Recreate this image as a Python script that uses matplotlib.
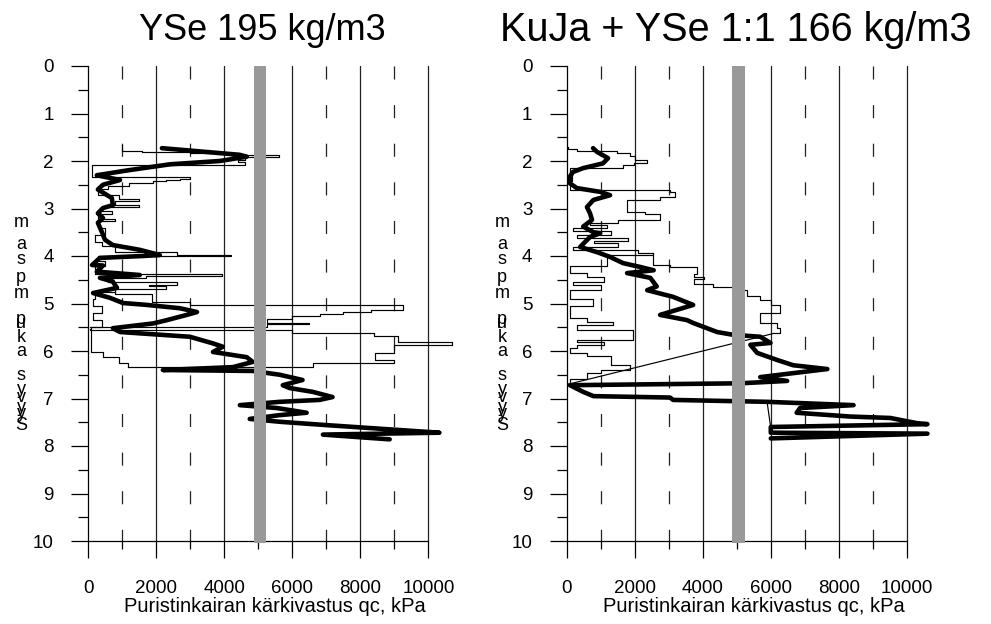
import matplotlib
matplotlib.use('Agg')
import matplotlib.pyplot as plt

plt.rcParams['font.family'] = ['Liberation Sans', 'DejaVu Sans']
plt.rcParams['lines.scale_dashes'] = False

# ---------------- data ----------------
titles = ['YSe 195 kg/m3', 'KuJa + YSe 1:1 166 kg/m3']
x_label = 'Puristinkairan kärkivastus qc, kPa'
y_label_chars = list('maspmpukasyvyyS')
x_major = [0, 2000, 4000, 6000, 8000, 10000]
x_minor = [1000, 3000, 5000, 7000, 9000]
y_major = list(range(0, 11))
y_minor = [0.5, 1.5, 2.5, 3.5, 4.5, 5.5, 6.5, 7.5, 8.5, 9.5]
limit_lo, limit_hi = 4870, 5240   # grey reference band

# left panel, thick sounding
L_thick_qc = [2170, 2990, 4460, 4660, 3870, 2400, 1140, 260, 940, 440, 290, 700, 730, 440, 290, 440, 290,
              410, 500, 730, 1520, 2110, 1610, 350, 120, 440, 260, 1520, 350, 730, 850, 150, 640, 1030,
              1730, 2700, 3200, 2900, 2320, 1910, 730, 940, 2990, 3670, 3960, 3670, 4660, 4840, 4250,
              2200, 4840, 5630, 6300, 5720, 5920, 6600, 7180, 6800, 5630, 4460, 5540, 6420, 5630, 4750,
              5630, 7000, 8860, 10320, 6900, 8860]
L_thick_depth = [1.73, 1.78, 1.87, 1.91, 2.00, 2.07, 2.20, 2.30, 2.40, 2.50, 2.60, 2.78, 2.93, 2.99, 3.10,
                 3.20, 3.30, 3.50, 3.66, 3.77, 3.87, 3.98, 4.00, 4.04, 4.19, 4.20, 4.33, 4.40, 4.46, 4.54,
                 4.67, 4.78, 4.88, 4.99, 5.03, 5.10, 5.18, 5.24, 5.35, 5.42, 5.52, 5.60, 5.70, 5.84, 5.91,
                 6.02, 6.13, 6.23, 6.34, 6.40, 6.42, 6.50, 6.61, 6.72, 6.78, 6.86, 6.97, 7.03, 7.07, 7.14,
                 7.20, 7.30, 7.35, 7.43, 7.49, 7.56, 7.65, 7.72, 7.76, 7.86]

# left panel, thin sounding (three stepped pieces)
LA_qc = [1000, 1600, 3000, 4200, 5600, 4600, 4400, 4600, 120, 2990, 2700, 2300, 1900, 1200, 600, 300, 900,
         1500, 800, 1500, 400, 700, 300, 800, 300, 500, 200, 400, 800, 2600, 4200, 300, 500, 200, 3950,
         1700, 600, 2600, 1800, 2300, 800, 200, 150, 400, 150, 400, 100, 80, 450, 900, 1170, 1170]
LA_depth = [1.66, 1.78, 1.80, 1.83, 1.88, 1.92, 1.98, 2.03, 2.09, 2.33, 2.37, 2.40, 2.43, 2.47, 2.52, 2.58,
            2.72, 2.80, 2.85, 2.92, 2.96, 3.06, 3.12, 3.22, 3.26, 3.40, 3.55, 3.70, 3.78, 3.92, 3.97, 4.01,
            4.10, 4.20, 4.38, 4.42, 4.47, 4.55, 4.60, 4.64, 4.70, 4.76, 4.90, 5.05, 5.20, 5.35, 5.50, 5.80,
            6.02, 6.12, 6.25, 6.33]
LB_qc = [800, 1870, 2990, 9240, 8300, 7500, 6800, 6000, 5250, 6500, 5250, 60]
LB_depth = [4.70, 4.80, 4.97, 5.03, 5.14, 5.18, 5.22, 5.27, 5.33, 5.40, 5.44, 5.50]
LC_qc = [60, 6000, 8400, 9100, 10680, 9000, 8420, 9000, 6600, 1170]
LC_depth = [5.53, 5.56, 5.62, 5.68, 5.82, 5.88, 6.05, 6.18, 6.25, 6.33]

# right panel, thick sounding
R_thick_qc = [780, 900, 1220, 1070, 490, 190, 100, 100, 300, 990, 1280, 790, 600, 690, 750, 490, 790, 990,
              690, 400, 900, 1280, 1660, 2160, 2560, 1780, 2460, 2650, 2370, 3130, 3720, 2750, 3540, 3720,
              4420, 4900, 5690, 5990, 5400, 5600, 6190, 6660, 7660, 6960, 5690, 6480, 5100, 100, 490, 790,
              3040, 3130, 5890, 8430, 6860, 6760, 8330, 9510, 10300, 10600, 6000, 6000, 10600, 6000]
R_thick_depth = [1.73, 1.81, 1.94, 2.05, 2.15, 2.23, 2.33, 2.47, 2.57, 2.65, 2.72, 2.82, 2.97, 3.10, 3.24,
                 3.38, 3.50, 3.52, 3.60, 3.81, 3.92, 4.02, 4.15, 4.23, 4.30, 4.36, 4.46, 4.64, 4.72, 4.86,
                 5.03, 5.24, 5.35, 5.41, 5.60, 5.66, 5.70, 5.83, 5.87, 6.04, 6.19, 6.30, 6.38, 6.44, 6.55,
                 6.63, 6.68, 6.72, 6.86, 6.95, 6.98, 7.03, 7.07, 7.14, 7.20, 7.30, 7.38, 7.41, 7.52, 7.54,
                 7.60, 7.72, 7.74, 7.84]

# right panel, thin sounding (two stepped pieces)
RA_qc = [50, 300, 1470, 1870, 2000, 2360, 1970, 1670, 100, 150, 100, 3040, 3190, 2750, 1770, 2300, 2750,
         1500, 700, 1200, 200, 1300, 300, 1800, 800, 1500, 200, 2100, 2550, 3040, 3830, 3730, 4025, 3730,
         4300, 4900, 5300, 5690, 6000, 6280, 5690, 6180, 6280, 6085]
RA_depth = [1.70, 1.74, 1.78, 1.83, 1.90, 1.98, 2.04, 2.09, 2.14, 2.30, 2.42, 2.61, 2.65, 2.75, 2.82, 3.07,
            3.12, 3.24, 3.30, 3.35, 3.42, 3.48, 3.55, 3.62, 3.68, 3.72, 3.80, 3.88, 3.93, 4.19, 4.23, 4.38,
            4.44, 4.48, 4.58, 4.66, 4.72, 4.85, 4.93, 5.03, 5.20, 5.42, 5.52, 5.63]
RB_qc = [2550, 1180, 100, 600, 1100, 200, 1000, 100, 790, 100, 600, 1375, 300, 1965, 300, 1100, 300, 100,
         600, 1300, 1865, 1000, 600, 100, 50]
RB_depth = [3.93, 3.98, 4.20, 4.35, 4.45, 4.55, 4.62, 4.72, 4.90, 5.05, 5.30, 5.38, 5.45, 5.56, 5.77, 5.82,
            5.88, 5.94, 6.05, 6.10, 6.30, 6.40, 6.47, 6.58, 6.70]
R_tail_qc = [5890, 6000]
R_tail_depth = [7.07, 7.62]

# ---------------- figure ----------------
W, H = 991, 624
fig = plt.figure(figsize=(W / 100, H / 100), dpi=100)
PX_PER_1000 = 34.05
XMAX = 11000
TICK_FS = 13.5


def make_axes(x0_px):
    left = x0_px / W
    width = XMAX / 1000 * PX_PER_1000 / W
    bottom = 1 - 541 / H
    height = 475 / H
    ax = fig.add_axes([left, bottom, width, height])
    ax.set_xlim(0, XMAX)
    ax.set_ylim(10, 0)
    for s in ('top', 'right'):
        ax.spines[s].set_visible(False)
    ax.spines['bottom'].set_bounds(0, 10000)
    ax.spines['left'].set_bounds(0, 10)
    for s in ('bottom', 'left'):
        ax.spines[s].set_linewidth(0.9)
    ax.set_xticks(x_major)
    ax.set_xticklabels([str(v) for v in x_major])
    ax.set_xticks(x_minor, minor=True)
    ax.set_yticks(y_major)
    ax.set_yticklabels([str(v) for v in y_major])
    ax.set_yticks(y_minor, minor=True)
    ax.tick_params(axis='x', which='major', length=12, width=0.9, pad=16, labelsize=TICK_FS)
    ax.tick_params(axis='x', which='minor', length=6, width=0.9)
    ax.tick_params(axis='y', which='major', length=12.5, width=0.9, pad=12, labelsize=TICK_FS)
    ax.tick_params(axis='y', which='minor', length=7, width=0.9)
    ax.set_xlabel(x_label, fontsize=14.5, labelpad=0)
    for v in x_major[1:]:
        ax.plot([v, v], [0, 10], color='#222222', lw=0.9, zorder=1)
    for v in x_minor:
        ax.plot([v, v], [0, 10], color='#222222', lw=0.9, dashes=(9.4, 18.4), zorder=1)
    ax.axvspan(limit_lo, limit_hi, ymin=-0.004, ymax=1, color='#999999', lw=0, zorder=5, clip_on=False)
    return ax


axL = make_axes(88)
axR = make_axes(566.5)

thick = dict(color='black', lw=3.3, solid_joinstyle='round', solid_capstyle='round', zorder=3)
thin = dict(color='black', lw=0.85, drawstyle='steps-pre', zorder=2)

axL.plot(L_thick_qc, L_thick_depth, **thick)
axL.plot(LA_qc, LA_depth, **thin)
axL.plot(LB_qc, LB_depth, **thin)
axL.plot(LC_qc, LC_depth, **thin)

axR.plot(R_thick_qc, R_thick_depth, **thick)
axR.plot(RA_qc, RA_depth, **thin)
axR.plot(RB_qc, RB_depth, **thin)
axR.plot([RA_qc[-1], RB_qc[-1]], [RA_depth[-1], RB_depth[-1]], color='black', lw=0.85, zorder=2)
axR.plot(R_tail_qc, R_tail_depth, color='black', lw=0.85, zorder=2)

# titles
fig.text(262 / W, 1 - 30 / H, titles[0], fontsize=26, ha='center', va='center')
fig.text(736 / W, 1 - 30 / H, titles[1], fontsize=28.5, ha='center', va='center')

# stacked y-axis label characters
char_y = [222, 245, 259, 278, 293, 320, 324, 337, 351, 375, 390, 397, 407, 414, 425]
for xc in (21, 502):
    for ch, yc in zip(y_label_chars, char_y):
        fig.text(xc / W, 1 - yc / H, ch, fontsize=13, ha='center', va='center')

fig.savefig('out.png', dpi=100)
